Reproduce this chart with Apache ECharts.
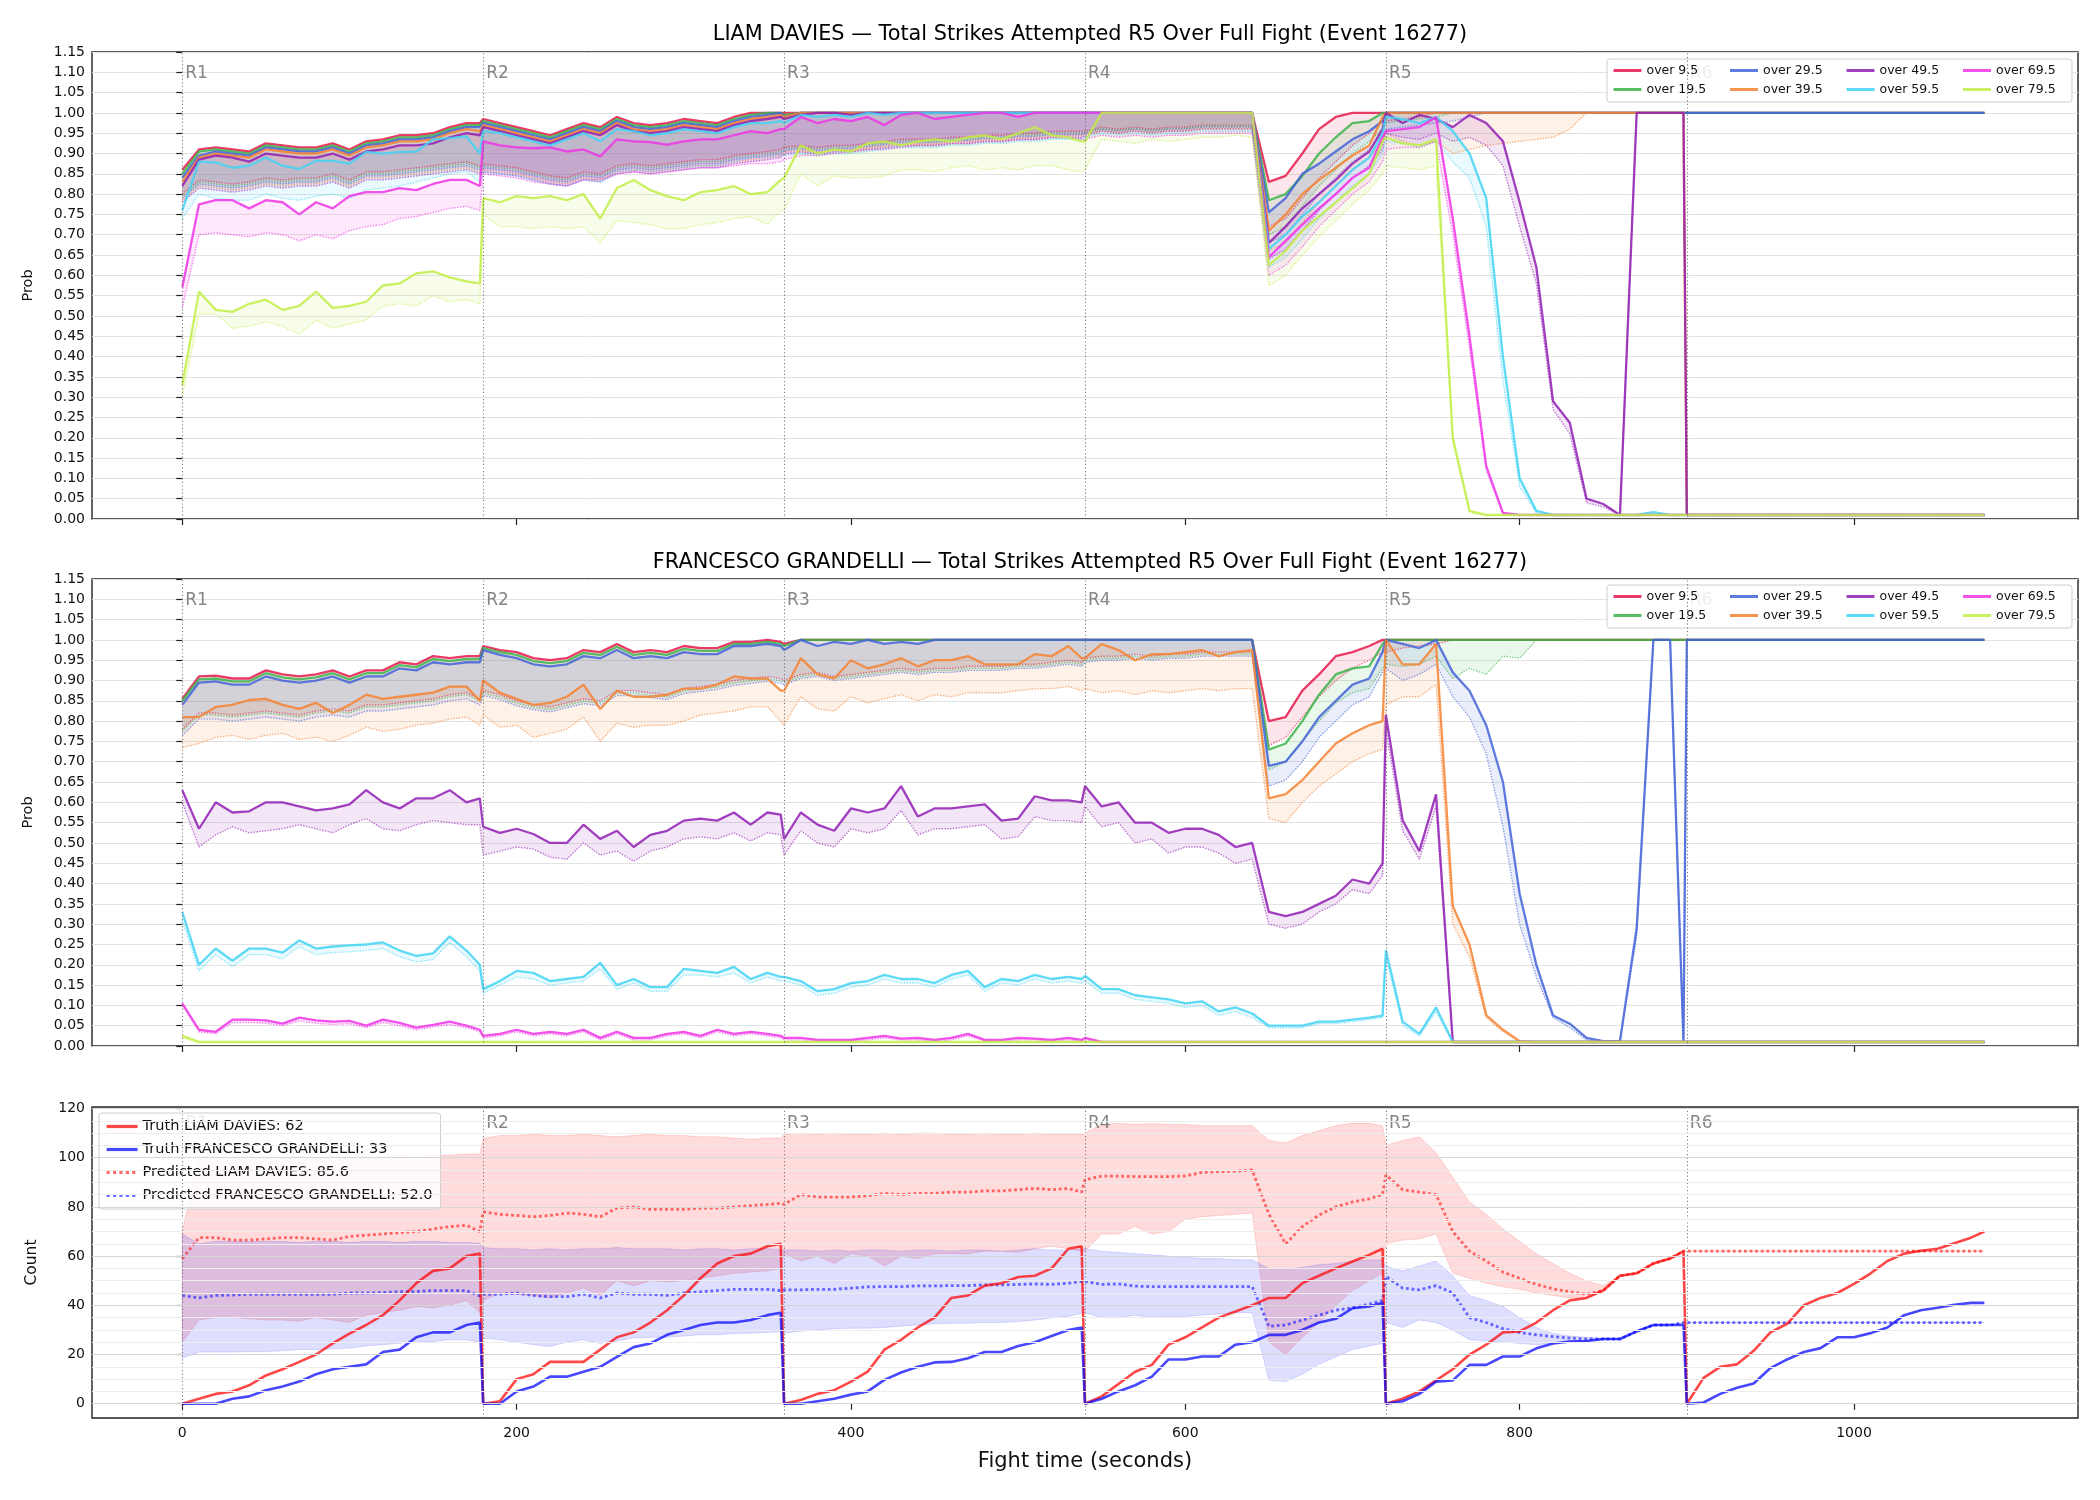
<!DOCTYPE html>
<html>
<head>
<meta charset="utf-8">
<title>Total Strikes Attempted R5 - Event 16277</title>
<script src="https://cdn.jsdelivr.net/npm/echarts@6/dist/echarts.min.js"></script>
<style>
html, body { margin: 0; padding: 0; background: #fff; }
#chart { width: 2100px; height: 1500px; }
</style>
</head>
<body>
<div id="chart"></div>
<script>
// fight clock: round starts and the sample offsets inside each round (seconds)
const ROUND_STARTS = [0, 180, 360, 540, 720, 900];
const ROUND_NAMES = ["R1", "R2", "R3", "R4", "R5", "R6"];
const OFFSETS = [0, 10, 20, 30, 40, 50, 60, 70, 80, 90, 100, 110, 120, 130, 140, 150, 160, 170, 178];
const X_TICKS = [0, 200, 400, 600, 800, 1000];
const COUNT_TICKS = [0, 20, 40, 60, 80, 100, 120];
const COUNT_GRID = [0, 5, 10, 15, 20, 25, 30, 35, 40, 45, 50, 55, 60, 65, 70, 75, 80, 85, 90, 95, 100, 105, 110, 115, 120];

const THRESHOLDS = ["over 9.5", "over 19.5", "over 29.5", "over 39.5", "over 49.5", "over 59.5", "over 69.5", "over 79.5"];
const COLORS = ["#e6194b", "#3cb44b", "#4363d8", "#f58231", "#911eb4", "#42d4f4", "#f032e6", "#bfef45"];

// constant rounds
const FULL = [1, 1, 1, 1, 1, 1, 1, 1, 1, 1, 1, 1, 1, 1, 1, 1, 1, 1, 1];
const FLOOR = [.01, .01, .01, .01, .01, .01, .01, .01, .01, .01, .01, .01, .01, .01, .01, .01, .01, .01, .01];
const FLOOR_LO = [.008, .008, .008, .008, .008, .008, .008, .008, .008, .008, .008, .008, .008, .008, .008, .008, .008, .008, .008];

// ---- LIAM DAVIES: probability per threshold (solid) and lower band (dotted), one row per round
const L09 = [
  [.86, .91, .915, .91, .905, .925, .92, .915, .915, .925, .91, .93, .935, .945, .945, .95, .965, .975, .975],
  [.985, .975, .965, .955, .945, .96, .975, .965, .99, .975, .97, .975, .985, .98, .975, .99, 1, 1, 1],
  FULL,
  [1, 1, 1, 1, 1, 1, 1, 1, 1, 1, 1, .83, .845, .90, .96, .99, 1, 1, 1],
  FULL, FULL];
const L19 = [
  [.85, .905, .91, .905, .90, .92, .915, .91, .91, .92, .905, .925, .93, .94, .94, .945, .96, .97, .97],
  [.98, .97, .96, .95, .94, .955, .97, .96, .985, .97, .965, .97, .98, .975, .97, .985, .995, 1, 1],
  [.995, 1, 1, 1, 1, 1, 1, 1, 1, 1, 1, 1, 1, 1, 1, 1, 1, 1, 1],
  [1, 1, 1, 1, 1, 1, 1, 1, 1, 1, 1, .785, .80, .845, .90, .94, .975, .98, 1],
  FULL, FULL];
const L29 = [
  [.84, .895, .905, .90, .895, .915, .91, .905, .905, .915, .90, .92, .925, .935, .935, .94, .955, .965, .965],
  [.975, .965, .955, .945, .935, .95, .965, .955, .98, .965, .96, .965, .975, .97, .965, .98, .99, .995, 1],
  [.99, 1, 1, 1, 1, 1, 1, 1, 1, 1, 1, 1, 1, 1, 1, 1, 1, 1, 1],
  [1, 1, 1, 1, 1, 1, 1, 1, 1, 1, 1, .755, .79, .85, .875, .905, .935, .955, .98],
  FULL, FULL];
const L39 = [
  [.83, .89, .90, .895, .89, .91, .905, .90, .90, .91, .895, .915, .92, .93, .93, .935, .95, .96, .955],
  [.97, .96, .95, .94, .93, .945, .96, .95, .975, .96, .955, .96, .97, .965, .96, .975, .985, .99, .995],
  [.99, 1, 1, 1, 1, 1, 1, 1, 1, 1, 1, 1, 1, 1, 1, 1, 1, 1, 1],
  [1, 1, 1, 1, 1, 1, 1, 1, 1, 1, 1, .71, .75, .80, .835, .865, .895, .92, .99],
  FULL, FLOOR];
const L49 = [
  [.82, .885, .895, .89, .88, .90, .895, .89, .89, .90, .885, .905, .91, .92, .92, .925, .94, .95, .945],
  [.965, .955, .945, .935, .925, .94, .955, .945, .97, .955, .95, .955, .965, .96, .955, .97, .98, .985, .99],
  [.985, .995, 1, 1, .995, 1, 1, 1, 1, 1, 1, 1, 1, 1, 1, 1, 1, 1, 1],
  [1, 1, 1, 1, 1, 1, 1, 1, 1, 1, 1, .68, .72, .765, .80, .835, .875, .905, .96],
  [1, .975, .995, .985, .965, .995, .975, .93, .78, .62, .29, .237, .05, .037, .01, 1, 1, 1, 1],
  FLOOR];
const L59 = [
  [.76, .88, .878, .865, .87, .89, .87, .862, .882, .882, .875, .904, .90, .904, .905, .935, .938, .942, .90],
  [.955, .95, .94, .93, .92, .935, .95, .93, .96, .955, .945, .95, .96, .955, .95, .965, .975, .975, .98],
  [.975, .995, .99, .995, .99, 1, .995, 1, 1, 1, 1, 1, 1, 1, 1, 1, 1, 1, 1],
  [1, 1, 1, 1, 1, 1, 1, 1, 1, 1, 1, .665, .70, .745, .78, .82, .86, .89, .95],
  [.99, .985, .975, .99, .955, .90, .79, .40, .10, .02, .01, .01, .01, .01, .01, .01, .017, .01, .01],
  FLOOR];
const L69 = [
  [.57, .775, .785, .785, .765, .785, .78, .75, .78, .765, .795, .805, .805, .815, .81, .825, .835, .835, .82],
  [.93, .92, .915, .913, .915, .905, .91, .893, .935, .93, .928, .922, .93, .935, .935, .945, .955, .95, .96],
  [.96, .99, .975, .985, .98, .99, .97, .995, 1, .985, .99, .995, 1, 1, .99, 1, 1, 1, 1],
  [1, 1, 1, 1, 1, 1, 1, 1, 1, 1, 1, .645, .685, .725, .765, .80, .84, .865, .94],
  [.955, .96, .965, .99, .74, .45, .13, .015, .01, .01, .01, .01, .01, .01, .01, .01, .01, .01, .01],
  FLOOR];
const L79 = [
  [.33, .56, .515, .51, .53, .54, .515, .525, .56, .52, .525, .535, .575, .58, .605, .61, .595, .585, .58],
  [.79, .78, .795, .79, .795, .785, .80, .74, .815, .835, .81, .795, .785, .805, .81, .82, .80, .805, .835],
  [.84, .92, .90, .91, .905, .925, .93, .92, .93, .935, .93, .94, .945, .935, .95, .965, .945, .94, .93],
  [.93, 1, 1, 1, 1, 1, 1, 1, 1, 1, 1, .625, .66, .71, .745, .78, .815, .85, .93],
  [.94, .925, .92, .935, .20, .02, .01, .01, .01, .01, .01, .01, .01, .01, .01, .01, .01, .01, .01],
  FLOOR];

const LL09 = [
  [.80, .835, .83, .825, .83, .84, .835, .84, .84, .85, .835, .855, .855, .86, .865, .87, .875, .88, .87],
  [.875, .87, .865, .855, .845, .84, .855, .85, .87, .875, .87, .875, .88, .885, .885, .895, .90, .905, .91],
  [.915, .92, .915, .92, .92, .925, .93, .935, .935, .935, .94, .94, .945, .945, .95, .95, .955, .955, .955],
  [.955, .965, .96, .965, .96, .965, .965, .97, .97, .97, .97, .72, .74, .79, .84, .88, .92, .95, .98],
  [.98, .985, .99, 1, 1, 1, 1, 1, 1, 1, 1, 1, 1, 1, 1, 1, 1, 1, 1],
  FULL];
const LL19 = [
  [.795, .83, .825, .82, .825, .835, .83, .835, .835, .845, .83, .85, .85, .855, .86, .865, .87, .875, .865],
  [.87, .865, .86, .85, .84, .835, .85, .845, .865, .87, .865, .87, .875, .88, .88, .89, .895, .90, .905],
  [.911, .916, .911, .916, .916, .921, .926, .931, .931, .931, .936, .936, .941, .941, .946, .946, .951, .951, .951],
  [.953, .962, .957, .962, .957, .962, .962, .967, .967, .967, .967, .70, .72, .77, .82, .86, .90, .93, .96],
  [.975, .98, .985, .99, 1, 1, 1, 1, 1, 1, 1, 1, 1, 1, 1, 1, 1, 1, 1],
  FULL];
const LL29 = [
  [.79, .825, .82, .815, .82, .83, .825, .83, .83, .84, .825, .845, .845, .85, .855, .86, .865, .87, .86],
  [.865, .86, .855, .845, .835, .83, .845, .84, .86, .865, .86, .865, .87, .875, .875, .885, .89, .895, .90],
  [.907, .912, .907, .912, .912, .917, .922, .927, .927, .927, .932, .932, .937, .937, .942, .942, .947, .947, .947],
  [.95, .96, .955, .96, .955, .96, .96, .965, .965, .965, .965, .68, .70, .75, .80, .84, .88, .91, .95],
  [.96, .965, .97, .975, .98, .99, 1, 1, 1, 1, 1, 1, 1, 1, 1, 1, 1, 1, 1],
  FULL];
const LL39 = [
  [.785, .82, .815, .81, .815, .825, .82, .825, .825, .835, .82, .84, .84, .845, .85, .855, .86, .865, .855],
  [.86, .855, .85, .84, .83, .825, .84, .835, .855, .86, .855, .86, .865, .87, .87, .88, .885, .89, .895],
  [.903, .908, .903, .908, .908, .913, .918, .923, .923, .923, .928, .928, .933, .933, .938, .938, .943, .943, .943],
  [.948, .957, .952, .957, .952, .957, .957, .962, .962, .962, .962, .66, .68, .73, .78, .82, .86, .89, .93],
  [.95, .93, .92, .93, .90, .91, .92, .925, .93, .935, .94, .96, 1, 1, 1, 1, 1, 1, 1],
  FLOOR_LO];
const LL49 = [
  [.78, .815, .81, .805, .81, .82, .815, .82, .82, .83, .815, .835, .835, .84, .845, .85, .855, .86, .85],
  [.855, .85, .845, .835, .825, .82, .835, .83, .85, .855, .85, .855, .86, .865, .865, .875, .88, .885, .89],
  [.899, .904, .899, .904, .904, .909, .914, .919, .919, .919, .924, .924, .929, .929, .934, .934, .939, .939, .939],
  [.945, .955, .95, .955, .95, .955, .955, .96, .96, .96, .96, .64, .665, .71, .76, .80, .84, .87, .91],
  [.95, .94, .935, .95, .93, .94, .92, .87, .72, .58, .27, .21, .04, .03, .01, 1, 1, 1, 1],
  FLOOR_LO];
const LL59 = [
  [.74, .80, .79, .785, .785, .80, .79, .785, .795, .80, .79, .81, .815, .82, .83, .84, .85, .855, .83],
  [.855, .85, .845, .835, .825, .82, .835, .83, .855, .86, .855, .86, .865, .87, .87, .88, .89, .89, .895],
  [.895, .90, .895, .90, .90, .905, .91, .915, .915, .915, .92, .92, .925, .925, .93, .93, .935, .935, .935],
  [.94, .95, .945, .95, .945, .95, .95, .955, .955, .955, .955, .62, .645, .69, .74, .78, .82, .85, .90],
  [.93, .925, .915, .93, .88, .84, .72, .34, .08, .015, .008, .008, .008, .008, .008, .008, .012, .008, .008],
  FLOOR_LO];
const LL69 = [
  [.52, .70, .705, .70, .695, .705, .70, .685, .70, .69, .71, .72, .725, .74, .745, .755, .765, .77, .76],
  [.85, .845, .84, .83, .825, .82, .835, .835, .85, .855, .85, .855, .86, .865, .865, .87, .875, .875, .88],
  [.885, .895, .895, .90, .905, .91, .91, .915, .92, .92, .925, .925, .93, .93, .935, .935, .94, .94, .935],
  [.935, .945, .94, .945, .94, .945, .945, .95, .95, .95, .95, .60, .625, .67, .72, .76, .80, .83, .88],
  [.91, .915, .915, .93, .70, .42, .12, .012, .008, .008, .008, .008, .008, .008, .008, .008, .008, .008, .008],
  FLOOR_LO];
const LL79 = [
  [.30, .505, .505, .47, .475, .485, .475, .455, .49, .47, .48, .49, .525, .53, .525, .55, .535, .54, .53],
  [.75, .72, .72, .715, .72, .715, .72, .68, .735, .73, .725, .715, .715, .725, .73, .74, .745, .725, .76],
  [.76, .85, .82, .845, .84, .84, .845, .86, .86, .855, .865, .87, .86, .865, .86, .87, .87, .86, .855],
  [.86, .935, .93, .925, .935, .93, .935, .94, .94, .945, .94, .575, .60, .65, .695, .735, .775, .81, .85],
  [.87, .865, .86, .87, .19, .015, .008, .008, .008, .008, .008, .008, .008, .008, .008, .008, .008, .008, .008],
  FLOOR_LO];

// ---- FRANCESCO GRANDELLI
const G09 = [
  [.855, .91, .912, .905, .905, .925, .915, .91, .915, .925, .91, .925, .925, .945, .94, .96, .955, .96, .96],
  [.985, .975, .97, .955, .95, .955, .975, .97, .99, .97, .975, .97, .985, .98, .98, .995, .995, 1, .995],
  [.99, 1, 1, 1, 1, 1, 1, 1, 1, 1, 1, 1, 1, 1, 1, 1, 1, 1, 1],
  [1, 1, 1, 1, 1, 1, 1, 1, 1, 1, 1, .80, .81, .875, .915, .96, .97, .985, 1],
  FULL, FULL];
const G19 = [
  [.85, .903, .905, .898, .898, .918, .908, .903, .908, .918, .903, .918, .918, .938, .933, .953, .948, .953, .953],
  [.98, .97, .963, .948, .943, .948, .968, .963, .983, .963, .968, .963, .978, .973, .973, .99, .99, .995, .99],
  [.985, 1, 1, 1, 1, 1, 1, 1, 1, 1, 1, 1, 1, 1, 1, 1, 1, 1, 1],
  [1, 1, 1, 1, 1, 1, 1, 1, 1, 1, 1, .73, .745, .80, .865, .915, .93, .935, .99],
  FULL, FULL];
const G29 = [
  [.84, .895, .898, .89, .89, .91, .90, .895, .90, .91, .895, .91, .91, .93, .925, .945, .94, .945, .945],
  [.975, .963, .955, .94, .935, .94, .96, .955, .975, .955, .96, .955, .97, .965, .965, .985, .985, .99, .985],
  [.975, 1, .985, .995, .99, 1, .99, .995, .99, 1, 1, 1, 1, 1, 1, 1, 1, 1, 1],
  [1, 1, 1, 1, 1, 1, 1, 1, 1, 1, 1, .69, .70, .75, .81, .85, .89, .905, .97],
  [1, .99, .98, 1, .92, .875, .79, .65, .375, .20, .075, .055, .02, .012, .012, .29, 1, 1, .01],
  FULL];
const G39 = [
  [.81, .81, .835, .84, .852, .855, .84, .83, .845, .82, .84, .865, .855, .86, .865, .87, .885, .885, .85],
  [.90, .87, .855, .84, .845, .86, .89, .83, .875, .86, .86, .865, .88, .88, .89, .91, .905, .905, .875],
  [.875, .955, .915, .905, .95, .93, .94, .955, .935, .95, .95, .96, .94, .94, .94, .965, .96, .985, .955],
  [.955, .99, .975, .95, .965, .965, .97, .975, .96, .97, .975, .61, .62, .655, .70, .745, .77, .79, .80],
  [1, .94, .94, .99, .345, .25, .076, .04, .012, .01, .01, .01, .01, .01, .01, .01, .01, .01, .01],
  FLOOR];
const G49 = [
  [.63, .535, .60, .575, .578, .60, .60, .59, .58, .585, .595, .63, .60, .585, .61, .61, .63, .60, .61],
  [.54, .525, .535, .522, .50, .50, .545, .51, .53, .49, .52, .53, .555, .56, .555, .575, .545, .575, .57],
  [.51, .575, .545, .53, .585, .575, .585, .64, .565, .585, .585, .59, .595, .555, .56, .615, .605, .605, .60],
  [.64, .59, .60, .55, .55, .525, .535, .535, .52, .49, .50, .33, .32, .33, .35, .37, .41, .40, .45],
  [.815, .556, .48, .62, .01, .01, .01, .01, .01, .01, .01, .01, .01, .01, .01, .01, .01, .01, .01],
  FLOOR];
const G59 = [
  [.33, .20, .24, .21, .24, .24, .23, .26, .24, .245, .248, .25, .255, .235, .222, .228, .27, .235, .20],
  [.14, .16, .185, .18, .16, .165, .17, .205, .15, .165, .145, .145, .19, .185, .18, .195, .165, .18, .17],
  [.17, .16, .135, .14, .155, .16, .175, .165, .165, .155, .175, .185, .145, .165, .16, .175, .165, .17, .165],
  [.173, .14, .14, .125, .12, .115, .105, .11, .085, .095, .08, .05, .05, .05, .06, .06, .065, .07, .075],
  [.236, .06, .03, .095, .01, .01, .01, .01, .01, .01, .01, .01, .01, .01, .01, .01, .01, .01, .01],
  FLOOR];
const G69 = [
  [.105, .04, .035, .065, .065, .063, .055, .07, .063, .06, .062, .05, .065, .057, .045, .052, .06, .05, .04],
  [.025, .03, .04, .03, .035, .03, .04, .02, .035, .02, .02, .03, .035, .025, .04, .03, .035, .03, .025],
  [.02, .02, .015, .015, .015, .02, .025, .018, .02, .015, .02, .03, .015, .015, .02, .018, .015, .02, .015],
  [.02, .01, .01, .01, .01, .01, .01, .01, .01, .01, .01, .01, .01, .01, .01, .01, .01, .01, .01],
  FLOOR, FLOOR];
const G79 = [
  [.025, .01, .01, .01, .01, .01, .01, .01, .01, .01, .01, .01, .01, .01, .01, .01, .01, .01, .01],
  FLOOR, FLOOR, FLOOR, FLOOR, FLOOR];

const GL09 = [
  [.78, .82, .82, .815, .82, .825, .82, .815, .825, .83, .825, .84, .84, .845, .85, .855, .865, .87, .855],
  [.875, .865, .85, .84, .835, .845, .855, .85, .875, .875, .87, .865, .88, .885, .89, .90, .905, .91, .905],
  [.90, .915, .92, .91, .915, .92, .925, .93, .925, .93, .93, .935, .935, .935, .94, .94, .945, .95, .945],
  [.955, .96, .96, .965, .96, .965, .965, .97, .97, .97, .97, .74, .76, .81, .86, .90, .93, .95, .97],
  [.97, .98, .985, .99, 1, 1, 1, 1, 1, 1, 1, 1, 1, 1, 1, 1, 1, 1, 1],
  FULL];
const GL19 = [
  [.775, .815, .815, .81, .815, .82, .815, .81, .82, .825, .82, .835, .835, .84, .845, .85, .86, .865, .85],
  [.869, .859, .844, .834, .829, .839, .849, .844, .869, .869, .864, .859, .874, .879, .884, .894, .899, .904, .899],
  [.895, .91, .915, .905, .91, .915, .92, .925, .92, .925, .925, .93, .93, .93, .935, .935, .94, .945, .94],
  [.95, .955, .955, .96, .955, .96, .96, .965, .965, .965, .965, .68, .70, .75, .80, .845, .87, .88, .93],
  [.94, .935, .94, .96, .905, .93, .915, .96, .955, 1, 1, 1, 1, 1, 1, 1, 1, 1, 1],
  FULL];
const GL29 = [
  [.765, .805, .805, .80, .805, .81, .805, .80, .81, .815, .81, .825, .825, .83, .835, .84, .85, .855, .84],
  [.863, .853, .838, .828, .823, .833, .843, .838, .863, .863, .858, .853, .868, .873, .878, .888, .893, .898, .893],
  [.89, .905, .91, .90, .905, .91, .915, .92, .915, .92, .92, .925, .925, .925, .93, .93, .935, .94, .935],
  [.945, .95, .95, .955, .95, .955, .955, .96, .96, .96, .96, .64, .655, .70, .76, .80, .84, .86, .92],
  [.93, .90, .915, .94, .86, .81, .72, .54, .30, .17, .07, .045, .015, .01, .01, .27, 1, 1, .008],
  FULL];
const GL39 = [
  [.735, .745, .76, .765, .755, .765, .77, .755, .76, .75, .765, .785, .775, .78, .79, .795, .805, .81, .79],
  [.815, .785, .79, .76, .77, .78, .81, .75, .795, .785, .79, .79, .80, .815, .82, .825, .835, .835, .80],
  [.79, .86, .83, .825, .86, .845, .855, .865, .85, .865, .86, .87, .87, .87, .875, .88, .88, .885, .875],
  [.88, .87, .875, .865, .875, .87, .875, .88, .875, .88, .88, .56, .55, .60, .64, .67, .70, .72, .73],
  [.84, .86, .86, .89, .30, .22, .07, .035, .01, .008, .008, .008, .008, .008, .008, .008, .008, .008, .008],
  FLOOR_LO];
const GL49 = [
  [.60, .49, .52, .54, .525, .53, .535, .545, .535, .525, .545, .56, .535, .53, .545, .555, .55, .545, .545],
  [.47, .48, .49, .485, .465, .46, .50, .47, .48, .455, .48, .49, .51, .515, .51, .525, .505, .525, .52],
  [.47, .53, .50, .49, .535, .525, .535, .58, .52, .535, .535, .54, .545, .51, .515, .565, .555, .555, .55],
  [.59, .54, .55, .50, .51, .475, .49, .49, .475, .45, .46, .30, .29, .30, .33, .35, .385, .375, .42],
  [.78, .53, .46, .59, .008, .008, .008, .008, .008, .008, .008, .008, .008, .008, .008, .008, .008, .008, .008],
  FLOOR_LO];
const GL59 = [
  [.31, .185, .225, .195, .225, .225, .215, .245, .225, .23, .232, .235, .24, .22, .207, .213, .255, .22, .185],
  [.13, .15, .17, .165, .15, .155, .16, .19, .14, .155, .135, .135, .175, .175, .17, .18, .155, .17, .16],
  [.16, .15, .125, .13, .145, .15, .165, .155, .155, .145, .165, .175, .135, .155, .15, .165, .155, .16, .155],
  [.16, .13, .13, .115, .11, .105, .095, .10, .075, .085, .07, .045, .045, .045, .055, .055, .06, .065, .07],
  [.22, .05, .025, .085, .008, .008, .008, .008, .008, .008, .008, .008, .008, .008, .008, .008, .008, .008, .008],
  FLOOR_LO];
const GL69 = [
  [.10, .035, .03, .058, .058, .056, .05, .062, .056, .053, .055, .045, .058, .05, .04, .047, .053, .045, .035],
  [.02, .025, .035, .025, .03, .025, .035, .015, .03, .015, .015, .025, .03, .02, .035, .025, .03, .025, .02],
  [.015, .015, .012, .012, .012, .015, .02, .015, .015, .012, .015, .025, .012, .012, .015, .015, .012, .015, .012],
  [.015, .008, .008, .008, .008, .008, .008, .008, .008, .008, .008, .008, .008, .008, .008, .008, .008, .008, .008],
  FLOOR_LO, FLOOR_LO];
const GL79 = [
  [.02, .008, .008, .008, .008, .008, .008, .008, .008, .008, .008, .008, .008, .008, .008, .008, .008, .008, .008],
  FLOOR_LO, FLOOR_LO, FLOOR_LO, FLOOR_LO, FLOOR_LO];

// ---- cumulative strike counts
const TRUTH_LIAM = [
  [0, 2, 4, 5, 7.5, 11.5, 14, 17, 20, 24.5, 28.5, 32, 36, 42, 49, 54, 55, 60, 61],
  [0, 1, 10, 12, 17, 17, 17, 22, 27, 29, 33, 38, 44, 51, 57, 60, 61, 64, 65],
  [0, 1.5, 4, 5.5, 9, 13, 22, 26, 31, 35, 43, 44, 48, 49, 51.5, 52, 55, 63, 64],
  [0, 3, 8, 13, 15.8, 24, 27, 31, 35, 37.5, 40, 43, 43, 49, 52, 55, 57.8, 60.5, 63],
  [0, 2, 5, 9.5, 14, 20, 24, 29, 29.4, 33, 38, 42, 43, 46, 52, 53, 57, 59, 62],
  [0, 10.5, 15, 16, 21.5, 29, 32.5, 40, 43, 45, 48.7, 53, 58, 61, 62.2, 63, 65.2, 67.5, 70]];
const TRUTH_FRAN = [
  [0, 0, 0, 2, 3, 5.5, 7, 9, 12, 14, 15, 16, 21, 22, 27, 29, 29, 32, 33],
  [0, 0, 5, 7, 11, 11, 13, 15, 19, 23, 24.5, 28, 30, 32, 33, 33, 34, 36, 37],
  [0, 0, 1, 2, 3.7, 5, 9.7, 12.7, 15, 16.8, 17, 18.5, 21, 21, 23.5, 25, 27.5, 30, 31],
  [0, 2, 5, 7.5, 11, 18, 18, 19.2, 19.2, 24, 25, 28, 28, 30, 33, 34.5, 38.8, 39.5, 41],
  [0, 1, 4, 9, 9.5, 15.8, 15.8, 19.2, 19.2, 22.5, 24.5, 25.3, 25.5, 26.3, 26.3, 29.4, 32, 32, 32],
  [0, .5, 4, 6.5, 8.2, 14.5, 18, 21, 22.6, 27, 27, 28.7, 31, 36, 38, 39, 40.2, 41, 41]];
const PRED_LIAM = [
  [59, 67.5, 67.5, 66.5, 66.5, 67, 67.5, 67.5, 67, 66.5, 68, 68.5, 69, 69.5, 70, 71, 72, 72.5, 70],
  [78, 77, 76.5, 76, 76.5, 77.5, 77, 76, 79.5, 80, 79, 79, 79, 79.5, 79.5, 80, 80.5, 81, 81.5],
  [81, 85, 84, 84, 84, 84.5, 85.5, 85, 85.5, 85.5, 86, 86, 86.5, 86.5, 87, 87.5, 87, 87.5, 86],
  [91, 92.5, 92.5, 92.3, 92.3, 92.3, 92.6, 94, 94.3, 94.5, 95, 77, 65, 72, 76.7, 80, 82, 83.3, 85],
  [93, 87, 86, 85, 70, 62, 58, 53.5, 51, 48.5, 46.7, 45.5, 44.5, 46, 52, 53, 57, 59, 62],
  [62, 62, 62, 62, 62, 62, 62, 62, 62, 62, 62, 62, 62, 62, 62, 62, 62, 62, 62]];
const PRED_FRAN = [
  [44, 43, 44, 44.2, 44.5, 44.5, 44.5, 44.5, 44.5, 44.5, 45, 45, 45.2, 45.5, 45.6, 46, 46, 46, 43.8],
  [44.5, 44.5, 45, 44, 43.5, 43.5, 44.5, 43, 45, 44.5, 44.5, 44, 45, 45.5, 46, 46.5, 46.5, 46.5, 46],
  [46.3, 46.3, 46.5, 46.5, 47, 47.5, 47.6, 47.6, 47.9, 47.9, 48, 48, 48.3, 48.3, 48.5, 48.7, 48.5, 49, 49.7],
  [49.7, 48.5, 48.7, 47.8, 47.6, 47.6, 47.6, 47.6, 47.6, 47.6, 47.6, 31.5, 32, 34, 36, 38, 39, 40.5, 42],
  [51.7, 47, 46.3, 48, 45, 35, 33, 30.5, 29, 28, 27.3, 26.7, 26.3, 26.3, 26.3, 29.4, 32, 32, 33],
  [33, 33, 33, 33, 33, 33, 33, 33, 33, 33, 33, 33, 33, 33, 33, 33, 33, 33, 33]];
const BAND_LIAM_HI = [
  [70, 100.5, 100.5, 100, 100.5, 100, 100, 100.5, 100, 100.5, 100, 100.5, 100, 101, 100.5, 101, 101, 101.5, 101.5],
  [107.8, 109, 109, 109.5, 109, 109, 109.5, 109, 108.5, 109, 109.5, 109, 109, 108.5, 108.5, 108, 107.5, 108, 108],
  [109.5, 110, 109.5, 110, 109.5, 109.5, 110, 109.5, 110, 110, 109.5, 109.5, 110, 109.5, 109.5, 110, 109.5, 109.5, 109.5],
  [110, 113.5, 114, 113.5, 113.8, 113.5, 113.5, 113, 113, 113, 113, 107, 106, 109, 111, 113, 114, 114, 113],
  [105, 107, 108.5, 102, 92, 82, 77, 71, 66, 61, 57, 53, 50, 48, 52, 53, 57, 59, 62],
  [62, 62, 62, 62, 62, 62, 62, 62, 62, 62, 62, 62, 62, 62, 62, 62, 62, 62, 62]];
const BAND_LIAM_LO = [
  [25, 34, 35, 35, 34.5, 34, 34, 33.5, 35, 34, 33, 36, 37, 38, 39.5, 39, 40, 42, 37],
  [42, 45, 44.5, 44, 43, 45, 47, 44, 50, 48, 50, 49.5, 50, 51, 52, 53, 53.5, 54, 55],
  [61, 58, 60, 57, 61, 60, 56, 60, 59, 61, 61, 61, 62, 62, 61.5, 63, 64, 63, 62],
  [62, 69, 69, 72, 69, 70, 75, 76, 76.5, 77, 77.5, 25, 20, 27, 33, 40, 46, 50, 53],
  [65, 66.5, 67, 69, 53, 51, 49, 47.5, 46.5, 45, 44, 43, 43, 46, 52, 53, 57, 59, 62],
  [62, 62, 62, 62, 62, 62, 62, 62, 62, 62, 62, 62, 62, 62, 62, 62, 62, 62, 62]];
const BAND_FRAN_HI = [
  [69, 65, 66, 66, 66, 66, 66, 65.5, 66, 66, 65.5, 66, 66, 65.5, 66, 66, 65.5, 65.5, 65.2],
  [63.5, 63, 63, 62.5, 63, 62.5, 63, 63, 63.5, 63, 63, 63, 62.5, 63, 63, 62.5, 63, 63, 62.5],
  [62.5, 62.5, 62, 62.5, 62, 62.5, 62.5, 62, 62.5, 62.5, 62, 62.5, 62.5, 62, 62.5, 63, 62.5, 62.5, 63],
  [63, 62, 61.5, 61, 60.5, 60, 59.5, 59, 59, 58.5, 58.5, 55, 54.5, 55.5, 56.5, 57, 58, 58.5, 58.5],
  [56, 54, 56, 58, 52, 44, 42, 39.5, 35, 31, 28.5, 27.5, 27, 26.5, 26.3, 29.4, 32, 32, 33],
  [33, 33, 33, 33, 33, 33, 33, 33, 33, 33, 33, 33, 33, 33, 33, 33, 33, 33, 33]];
const BAND_FRAN_LO = [
  [18.5, 21, 21, 21, 21.2, 21.2, 21.5, 22, 22, 22.3, 22.6, 23.5, 24, 24.6, 25, 25.3, 26, 26, 25],
  [26.7, 26, 25, 24, 23.3, 25, 26, 24.5, 25.5, 26.7, 27, 27, 27.5, 28, 28, 28.5, 28.7, 29, 29.4],
  [28.7, 29.5, 30, 30.5, 30.7, 30.7, 31, 31.5, 32, 32.5, 32.7, 32.7, 33, 33, 33.4, 34, 34.8, 35.5, 36.8],
  [37, 35, 35, 36, 35, 35.5, 35.5, 36, 36.5, 37, 37, 9.5, 9, 12, 16, 19, 22, 23.5, 24.5],
  [33, 31, 34, 33, 30, 26, 25.5, 25, 24.5, 24, 24.5, 25.3, 25.5, 26.3, 26.3, 29.4, 32, 32, 33],
  [33, 33, 33, 33, 33, 33, 33, 33, 33, 33, 33, 33, 33, 33, 33, 33, 33, 33, 33]];

const LIAM_MAIN = [L09, L19, L29, L39, L49, L59, L69, L79];
const LIAM_LOW = [LL09, LL19, LL29, LL39, LL49, LL59, LL69, LL79];
const FRAN_MAIN = [G09, G19, G29, G39, G49, G59, G69, G79];
const FRAN_LOW = [GL09, GL19, GL29, GL39, GL49, GL59, GL69, GL79];

// rounds -> [seconds, value]
const toPoints = rounds => rounds.flatMap((vals, r) =>
  vals.slice(0, OFFSETS.length).map((v, k) => [ROUND_STARTS[r] + OFFSETS[k], v]));

const FONT = "DejaVu Sans";
const GRIDS = [
  { left: 92, right: 22, top: 52, height: 467 },
  { left: 92, right: 22, top: 579, height: 467 },
  { left: 92, right: 22, top: 1107, height: 311 }
];

function roundMarks(g, labelY) {
  return {
    type: "scatter", xAxisIndex: g, yAxisIndex: g, symbolSize: 0, silent: true, z: 1,
    data: ROUND_STARTS.map((x, i) => ({ value: [x, labelY], name: ROUND_NAMES[i] })),
    label: { show: true, position: "right", distance: 3, formatter: p => p.name, color: "#666", fontSize: 17, fontFamily: FONT },
    markLine: {
      symbol: "none", silent: true, animation: false, label: { show: false },
      lineStyle: { type: [1.2, 2.4], color: "#666", width: 1.1, opacity: 0.85 },
      data: ROUND_STARTS.map(x => ({ xAxis: x }))
    }
  };
}

// filled band between two curves, drawn as one polygon through the axes' coordinate mapping
function bandSeries(g, lo, hi, color, opacity, edge) {
  const loPts = toPoints(lo), hiPts = toPoints(hi);
  return {
    type: "custom", xAxisIndex: g, yAxisIndex: g, silent: true, z: 1,
    data: [loPts[0]],
    renderItem: (params, api) => {
      const points = hiPts.map(p => api.coord(p)).concat(loPts.slice().reverse().map(p => api.coord(p)));
      const style = { fill: color, opacity };
      if (edge) { style.stroke = color; style.lineWidth = 1; }
      return { type: "polygon", shape: { points }, style };
    }
  };
}

function probSeries(g, mains, lows) {
  const list = [];
  mains.forEach((main, k) => {
    list.push(bandSeries(g, lows[k], main, COLORS[k], 0.11, false));
    list.push({
      type: "line", name: THRESHOLDS[k] + " low", xAxisIndex: g, yAxisIndex: g,
      data: toPoints(lows[k]), symbol: "none", silent: true, z: 2,
      lineStyle: { color: COLORS[k], width: 1.4, type: "dotted", opacity: 0.6 }
    });
  });
  mains.forEach((main, k) => {
    list.push({
      type: "line", name: THRESHOLDS[k], xAxisIndex: g, yAxisIndex: g,
      data: toPoints(main), symbol: "none", z: 3,
      lineStyle: { color: COLORS[k], width: 2.3, opacity: 0.85 }, itemStyle: { color: COLORS[k] }
    });
  });
  return list;
}

const probY = g => ({
  type: "value", gridIndex: g, min: 0, max: 1.15, interval: 0.05,
  axisLine: { show: false },
  axisTick: { show: true, length: 6, lineStyle: { color: "#222", width: 1.2 } },
  axisLabel: { formatter: v => v.toFixed(2), fontSize: 14, color: "#111", margin: 7, fontFamily: FONT },
  splitLine: { show: true, lineStyle: { color: "#e2e2e2", width: 1 } },
  name: "Prob", nameLocation: "middle", nameGap: 56,
  nameTextStyle: { fontSize: 14.5, color: "#111", fontFamily: FONT }
});

const xAxes = GRIDS.map((g, i) => ({
  type: "value", gridIndex: i, min: -54, max: 1134,
  axisLine: { show: false },
  axisTick: { show: true, customValues: X_TICKS, length: 6, lineStyle: { color: "#222", width: 1.2 } },
  axisLabel: { show: i === 2, customValues: X_TICKS, formatter: v => String(v), fontSize: 14, color: "#111", margin: 8, fontFamily: FONT },
  splitLine: { show: false },
  name: i === 2 ? "Fight time (seconds)" : "", nameLocation: "middle", nameGap: 33,
  nameTextStyle: { fontSize: 21, color: "#111", fontFamily: FONT }
}));

const countY = {
  type: "value", gridIndex: 2, min: -5.8, max: 120.6,
  axisLine: { show: false },
  axisTick: { show: true, customValues: COUNT_TICKS, length: 6, lineStyle: { color: "#222", width: 1.2 } },
  axisLabel: { customValues: COUNT_TICKS, formatter: v => String(v), fontSize: 14, color: "#111", margin: 7, fontFamily: FONT },
  splitLine: { show: false },
  name: "Count", nameLocation: "middle", nameGap: 52,
  nameTextStyle: { fontSize: 15.5, color: "#111", fontFamily: FONT }
};

// horizontal grid of the count panel: light every 5, a bit darker on the labelled values
const countGrid = {
  type: "line", xAxisIndex: 2, yAxisIndex: 2, data: [], silent: true, z: 0,
  markLine: {
    symbol: "none", silent: true, animation: false, label: { show: false },
    data: COUNT_GRID.map(v => ({
      yAxis: v,
      lineStyle: { type: "solid", width: 1, color: COUNT_TICKS.includes(v) ? "#d6d6d6" : "#ededed" }
    }))
  }
};

// threshold legend: two rows (matplotlib ncol=4, column-major order); the first row carries the box
const LEGEND_ROW1 = [THRESHOLDS[0], THRESHOLDS[2], THRESHOLDS[4], THRESHOLDS[6]];
const LEGEND_ROW2 = [THRESHOLDS[1], THRESHOLDS[3], THRESHOLDS[5], THRESHOLDS[7]];
const legendRow = (data, top, boxed) => ({
  selectedMode: false, orient: "horizontal", left: 1607, top, width: 500,
  itemWidth: 28, itemHeight: 9, itemGap: 12,
  padding: boxed ? [5, 6, 25, 5] : [5, 6, 5, 5],
  backgroundColor: boxed ? "rgba(255,255,255,0.85)" : "transparent",
  borderColor: boxed ? "#cfcfcf" : "transparent", borderWidth: boxed ? 1 : 0, borderRadius: 3,
  itemStyle: { opacity: 0 },
  lineStyle: { width: 3 },
  textStyle: { fontSize: 12.5, color: "#111", width: 70, lineHeight: 10, fontFamily: FONT },
  data
});

const countNames = ["Truth LIAM DAVIES: 62", "Truth FRANCESCO GRANDELLI: 33", "Predicted LIAM DAVIES: 85.6", "Predicted FRANCESCO GRANDELLI: 52.0"];

const series = [
  roundMarks(0, 1.096), roundMarks(1, 1.096), roundMarks(2, 114), countGrid,
  ...probSeries(0, LIAM_MAIN, LIAM_LOW),
  ...probSeries(1, FRAN_MAIN, FRAN_LOW),
  bandSeries(2, BAND_LIAM_LO, BAND_LIAM_HI, "#ff0000", 0.14, true),
  bandSeries(2, BAND_FRAN_LO, BAND_FRAN_HI, "#0000ff", 0.13, true),
  { type: "line", name: countNames[2], xAxisIndex: 2, yAxisIndex: 2, data: toPoints(PRED_LIAM), symbol: "none", z: 3,
    lineStyle: { color: "#ff2020", width: 2.8, type: "dotted", opacity: 0.65 }, itemStyle: { color: "#ff2020" } },
  { type: "line", name: countNames[3], xAxisIndex: 2, yAxisIndex: 2, data: toPoints(PRED_FRAN), symbol: "none", z: 3,
    lineStyle: { color: "#2020ff", width: 2.8, type: "dotted", opacity: 0.65 }, itemStyle: { color: "#2020ff" } },
  { type: "line", name: countNames[0], xAxisIndex: 2, yAxisIndex: 2, data: toPoints(TRUTH_LIAM), symbol: "none", z: 4,
    lineStyle: { color: "#ff0000", width: 2.6, opacity: 0.72 }, itemStyle: { color: "#ff0000" } },
  { type: "line", name: countNames[1], xAxisIndex: 2, yAxisIndex: 2, data: toPoints(TRUTH_FRAN), symbol: "none", z: 4,
    lineStyle: { color: "#0000ff", width: 2.6, opacity: 0.72 }, itemStyle: { color: "#0000ff" } }
];

const chart = echarts.init(document.getElementById("chart"), null, { renderer: "canvas" });
chart.setOption({
  animation: false,
  backgroundColor: "#ffffff",
  textStyle: { fontFamily: FONT },
  title: [
    { text: "LIAM DAVIES \u2014 Total Strikes Attempted R5 Over Full Fight (Event 16277)", left: 1085, top: 19, textAlign: "center",
      textStyle: { fontSize: 20.8, fontWeight: "normal", color: "#000", fontFamily: FONT } },
    { text: "FRANCESCO GRANDELLI \u2014 Total Strikes Attempted R5 Over Full Fight (Event 16277)", left: 1085, top: 547, textAlign: "center",
      textStyle: { fontSize: 20.8, fontWeight: "normal", color: "#000", fontFamily: FONT } }
  ],
  legend: [
    legendRow(LEGEND_ROW1, 59, true), legendRow(LEGEND_ROW2, 78, false),
    legendRow(LEGEND_ROW1, 585, true), legendRow(LEGEND_ROW2, 604, false),
    { selectedMode: false, orient: "vertical", left: 99, top: 1113, itemWidth: 31, itemHeight: 12, itemGap: 8,
      padding: [6, 8, 6, 6], backgroundColor: "rgba(255,255,255,0.85)", borderColor: "#cfcfcf", borderWidth: 1, borderRadius: 3,
      itemStyle: { opacity: 0 }, lineStyle: { width: 3.2 },
      textStyle: { fontSize: 14.5, color: "#111", fontFamily: FONT }, data: countNames }
  ],
  grid: GRIDS.map(g => ({ ...g, show: true, borderColor: "#222", borderWidth: 1.4, backgroundColor: "transparent", containLabel: false })),
  xAxis: xAxes,
  yAxis: [probY(0), probY(1), countY],
  series
});
</script>
</body>
</html>
